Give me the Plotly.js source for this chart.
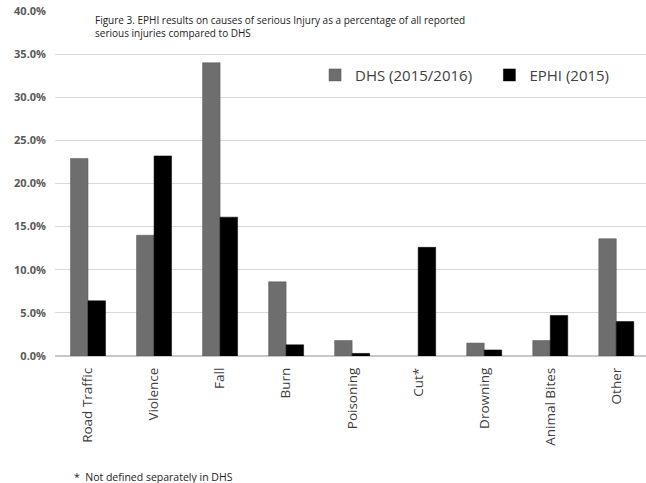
<!DOCTYPE html>
<html>
<head>
<meta charset="utf-8">
<script src="https://cdn.plot.ly/plotly-3.0.1.min.js"></script>
<style>html,body{margin:0;padding:0;background:#fff;}#chart{width:646px;height:483px;}</style>
</head>
<body>
<div id="chart"></div>
<script>
const categories = ["Road Traffic", "Violence", "Fall", "Burn", "Poisoning", "Cut*", "Drowning", "Animal Bites", "Other"];
const dhsValues = [0.229, 0.140, 0.340, 0.086, 0.018, null, 0.015, 0.018, 0.136];
const ephiValues = [0.064, 0.232, 0.161, 0.013, 0.003, 0.126, 0.007, 0.047, 0.040];
const seriesNames = ["DHS (2015/2016)", "EPHI (2015)"];
const yTickValues = [0, 0.05, 0.10, 0.15, 0.20, 0.25, 0.30, 0.35, 0.40];
const yTickLabels = ["0.0%", "5.0%", "10.0%", "15.0%", "20.0%", "25.0%", "30.0%", "35.0%", "40.0%"];

const traces = [
  {type: "bar", name: seriesNames[0], x: categories, y: dhsValues, legend: "legend",
   marker: {color: "#6e6e6e", line: {color: "#555", width: 0.5}}},
  {type: "bar", name: seriesNames[1], x: categories, y: ephiValues, legend: "legend2",
   marker: {color: "#000000", line: {color: "#000", width: 0.5}}}
];

const legendCommon = {orientation: "v", yanchor: "middle", xanchor: "left",
  font: {size: 15, color: "#404040", family: "Open Sans, sans-serif"}, bgcolor: "rgba(0,0,0,0)"};

const layout = {
  width: 646, height: 483,
  margin: {l: 55, r: 0, t: 11, b: 127},
  paper_bgcolor: "#fff", plot_bgcolor: "#fff",
  barmode: "group", bargap: 0.47, bargroupgap: 0,
  font: {family: "Open Sans, sans-serif", color: "#404040"},
  showlegend: true,
  legend: Object.assign({}, legendCommon, {x: 0.44, y: 0.814}),
  legend2: Object.assign({}, legendCommon, {x: 0.735, y: 0.814}),
  xaxis: {type: "category", range: [-0.5, 8.45], tickangle: -90, showline: false,
          ticks: "", tickfont: {size: 13.5, color: "#404040"}, showgrid: false, zeroline: false,
          ticklabelstandoff: 8},
  yaxis: {range: [0, 0.40], tickvals: yTickValues, ticktext: yTickLabels,
          showgrid: true, gridcolor: "#d9d9d9", gridwidth: 1, zeroline: true, zerolinecolor: "#c8c8c8",
          zerolinewidth: 1.5, showline: false, ticks: "", ticklen: 0, ticklabelstandoff: 8,
          tickfont: {size: 11, color: "#595959", family: "Open Sans, sans-serif", weight: "bold"}},
  annotations: [
    {xref: "paper", yref: "paper", x: 0.064, y: 1.0, xanchor: "left", yanchor: "top", align: "left",
     showarrow: false, font: {size: 10, color: "#222", family: "Open Sans, sans-serif"},
     text: "Figure 3. EPHI results on causes of serious Injury as a percentage of all reported<br>serious injuries compared to DHS"},
    {xref: "paper", yref: "paper", x: 0.028, y: -0.35, xanchor: "left", yanchor: "middle", showarrow: false,
     font: {size: 10.5, color: "#222", family: "Open Sans, sans-serif"}, text: "*  Not defined separately in DHS"}
  ]
};

Plotly.newPlot("chart", traces, layout, {displayModeBar: false, staticPlot: true});
</script>
</body>
</html>
